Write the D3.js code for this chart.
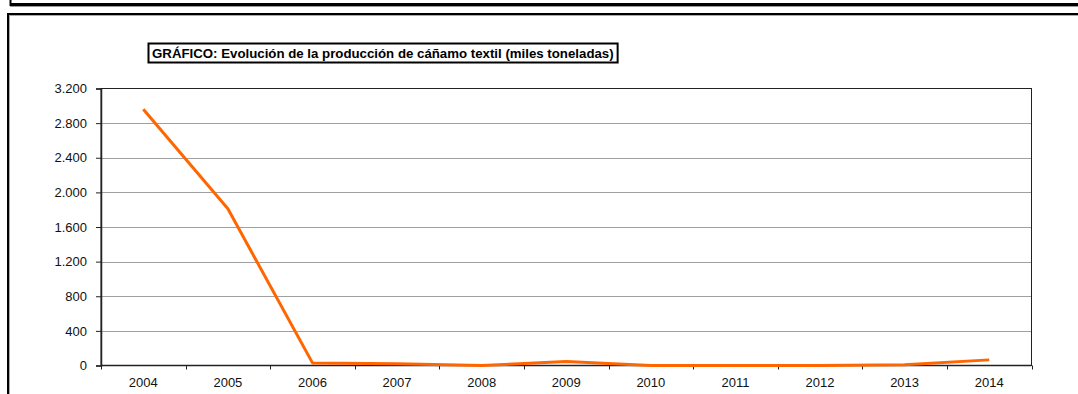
<!DOCTYPE html>
<html><head><meta charset="utf-8">
<script src="https://cdn.jsdelivr.net/npm/d3@7"></script>
<style>
html,body{margin:0;padding:0;background:#fff;}
svg{display:block;font-family:"Liberation Sans",Arial,sans-serif;}
</style></head>
<body>
<svg id="c" width="1078" height="394"></svg>
<script>
const years = ["2004","2005","2006","2007","2008","2009","2010","2011","2012","2013","2014"];
const produccion = [2960,1810,30,20,0,45,0,0,0,10,65];
const yTicks = [0,400,800,1200,1600,2000,2400,2800,3200];
const yTickLabels = ["0","400","800","1.200","1.600","2.000","2.400","2.800","3.200"];
const titleText = "GRÁFICO: Evolución de la producción de cáñamo textil (miles toneladas)";

const svg = d3.select("#c");

// outer frames
svg.append("line").attr("x1",10).attr("x2",1078).attr("y1",4.5).attr("y2",4.5).attr("stroke","#000").attr("stroke-width",3);
svg.append("line").attr("x1",10).attr("x2",1078).attr("y1",6.5).attr("y2",6.5).attr("stroke","#999").attr("stroke-width",1);
svg.append("line").attr("x1",10.5).attr("x2",10.5).attr("y1",0).attr("y2",6).attr("stroke","#000").attr("stroke-width",2);
svg.append("line").attr("x1",7).attr("x2",1078).attr("y1",14).attr("y2",14).attr("stroke","#000").attr("stroke-width",2);
svg.append("line").attr("x1",7).attr("x2",1078).attr("y1",15.5).attr("y2",15.5).attr("stroke","#aaa").attr("stroke-width",1);
svg.append("line").attr("x1",8).attr("x2",8).attr("y1",13).attr("y2",394).attr("stroke","#000").attr("stroke-width",2);
svg.append("line").attr("x1",9.5).attr("x2",9.5).attr("y1",15).attr("y2",394).attr("stroke","#aaa").attr("stroke-width",1);

const L = 101, R = 1031.5, T = 88.5, B = 365.5;
const x = d3.scaleBand().domain(years).range([L,R]);
const y = d3.scaleLinear().domain([0,3200]).range([B,T]);
const FONT = "'Liberation Sans',Arial,sans-serif";

// gridlines
svg.append("g").selectAll("line").data(yTicks.filter(v=>v>0&&v<3200)).join("line")
  .attr("x1",L).attr("x2",R).attr("y1",d=>Math.round(y(d))+0.5).attr("y2",d=>Math.round(y(d))+0.5)
  .attr("stroke","#a0a0a0").attr("stroke-width",1);

// plot border
svg.append("rect").attr("x",L).attr("y",T).attr("width",R-L).attr("height",B-T)
  .attr("fill","none").attr("stroke","#222").attr("stroke-width",1);

// y axis
const yAxis = d3.axisLeft(y).tickValues(yTicks).tickFormat((d,i)=>yTickLabels[i]).tickSize(5).tickPadding(9);
const gy = svg.append("g").attr("transform",`translate(${L},0)`).call(yAxis);
gy.select(".domain").attr("stroke","#222").attr("stroke-width",1.5);
gy.selectAll(".tick line").attr("stroke","#222");
gy.selectAll("text").attr("font-size",13).attr("fill","#111").attr("font-family",FONT);

// x axis with boundary ticks
const gx = svg.append("g").attr("transform",`translate(0,${B})`);
gx.append("line").attr("x1",L).attr("x2",R).attr("y1",0).attr("y2",0).attr("stroke","#222").attr("stroke-width",1.5);
const bounds = years.map(d=>x(d)).concat([R]);
gx.selectAll("line.tk").data(bounds).join("line").attr("class","tk")
  .attr("x1",d=>Math.round(d)+0.5).attr("x2",d=>Math.round(d)+0.5).attr("y1",0).attr("y2",4)
  .attr("stroke","#222");
gx.selectAll("text").data(years).join("text")
  .attr("x",d=>x(d)+x.bandwidth()/2).attr("y",21.5)
  .attr("text-anchor","middle").attr("font-size",13).attr("fill","#111").attr("font-family",FONT).text(d=>d);

// line
const line = d3.line().x((d,i)=>x(years[i])+x.bandwidth()/2).y(d=>y(d));
svg.append("path").datum(produccion).attr("d",line)
  .attr("fill","none").attr("stroke","#ff6600").attr("stroke-width",3).attr("stroke-linejoin","round");

// title box
const tg = svg.append("g");
const tt = tg.append("text").attr("x",152).attr("y",58).attr("font-size",13.25).attr("font-weight","bold").attr("fill","#000").attr("font-family",FONT).text(titleText);
const bb = tt.node().getBBox();
tg.insert("rect","text").attr("x",148.5).attr("y",43.5).attr("width",bb.x+bb.width+4-148.5).attr("height",19)
  .attr("fill","#fff").attr("stroke","#000").attr("stroke-width",2);
</script>
</body></html>
